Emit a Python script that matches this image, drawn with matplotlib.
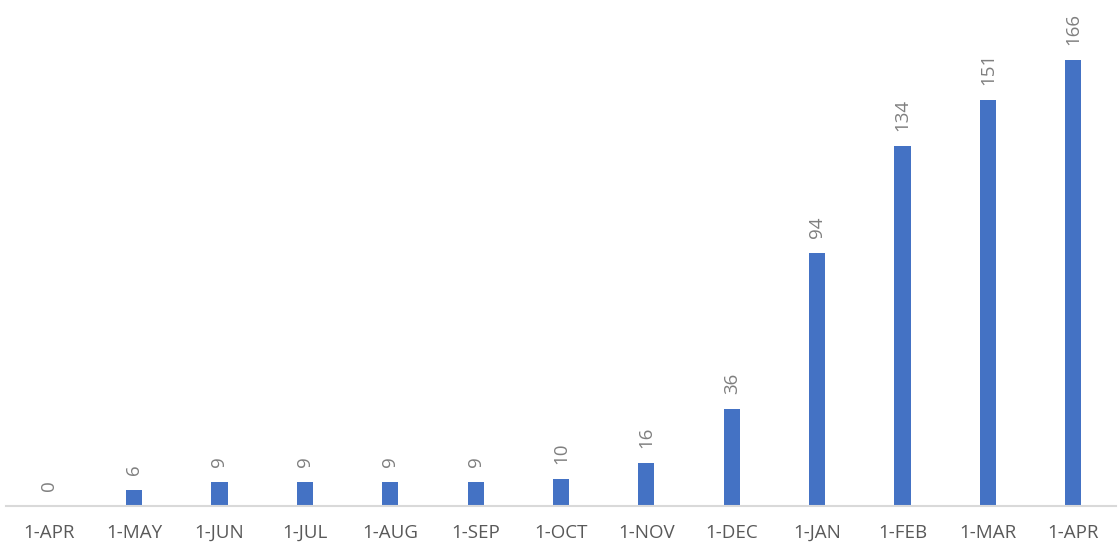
import matplotlib
matplotlib.use("Agg")
import matplotlib.pyplot as plt
import numpy as np

categories = ["1-APR", "1-MAY", "1-JUN", "1-JUL", "1-AUG", "1-SEP", "1-OCT",
              "1-NOV", "1-DEC", "1-JAN", "1-FEB", "1-MAR", "1-APR"]
values = [0, 6, 9, 9, 9, 9, 10, 16, 36, 94, 134, 151, 166]

plt.rcParams['font.family'] = ['Open Sans', 'DejaVu Sans']

fig = plt.figure(figsize=(11.18, 5.46), dpi=100)
ax = fig.add_axes([6/1118, 40/546, 1110/1118, 506/546])

x = np.arange(len(categories))
bars = ax.bar(x, values, width=0.19, color="#4472C4", zorder=2)

ax.set_xlim(-0.5, len(categories) - 0.5)
ax.set_ylim(0, 166 * 506 / 446)

for xi, v in zip(x, values):
    ax.annotate(str(v), (xi, v), xytext=(0, 11), textcoords="offset points",
                rotation=90, ha="center", va="bottom", fontsize=13.5,
                color="#7f7f7f")

ax.set_xticks(x)
ax.set_xticklabels(categories, fontsize=13.5, color="#595959")
ax.tick_params(axis="x", length=0, pad=13)
ax.set_yticks([])
for s in ["top", "right", "left"]:
    ax.spines[s].set_visible(False)
ax.spines["bottom"].set_color("#d9d9d9")
ax.spines["bottom"].set_linewidth(1.5)

fig.savefig("out.png", dpi=100)
